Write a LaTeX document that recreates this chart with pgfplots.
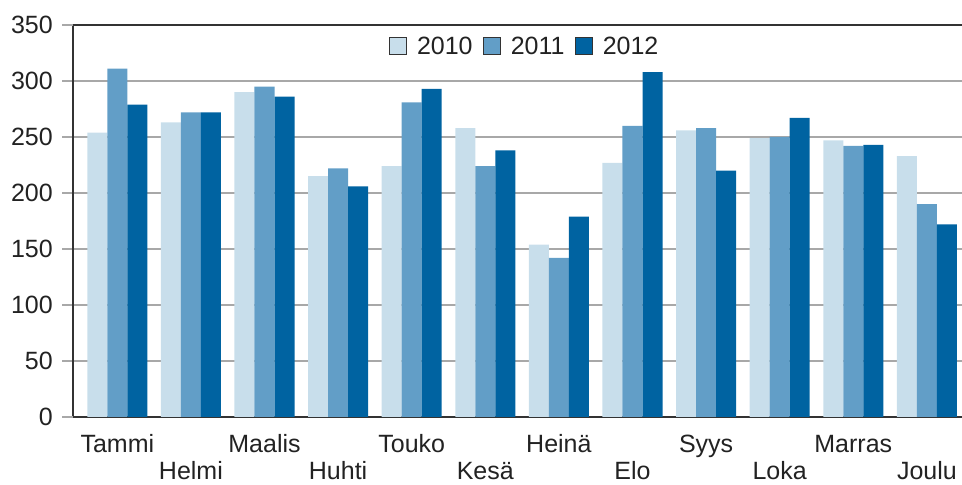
\documentclass[border=0pt]{standalone}
\usepackage{pgfplots}
\pgfplotsset{compat=1.18}
\usepackage{fontspec}
\setmainfont{Liberation Sans}
\definecolor{cA}{HTML}{C8DEEB}
\definecolor{cB}{HTML}{629EC7}
\definecolor{cC}{HTML}{0063A1}
\definecolor{txt}{HTML}{222222}
\definecolor{gridc}{HTML}{A8A8A8}
\definecolor{axc}{HTML}{333333}
\begin{document}
\begin{tikzpicture}
\path[use as bounding box] (0,0) rectangle (962bp,485bp);
\begin{axis}[
  at={(73bp,68bp)}, anchor=south west,
  width=889bp, height=392bp, scale only axis,
  xmin=-0.602, xmax=11.477, ymin=0, ymax=350,
  ybar, bar width=0.272,
  font=\fontsize{25bp}{30bp}\selectfont\color{txt},
  /pgf/number format/assume math mode=true,
  axis x line=bottom, axis y line=left,
  axis line style={-, axc, line width=1.6bp},
  ytick={50,100,...,300},
  extra y ticks={0,350},
  extra y tick style={grid style={axc, line width=1.6bp}, tick style={axc, line width=1.6bp}},
  ymajorgrids, grid style={gridc, line width=1.4bp},
  ytick style={gridc, line width=1.4bp},
  tick align=outside, major tick length=11bp,
  yticklabel style={inner sep=0pt, xshift=-9bp},
  xtick={0,2,4,6,8,10},
  xticklabels={Tammi,Maalis,Touko,Heinä,Syys,Marras},
  extra x ticks={1,3,5,7,9,11},
  extra x tick labels={Helmi,Huhti,Kesä,Elo,Loka,Joulu},
  extra x tick style={xticklabel style={yshift=-27bp}},
  xticklabel style={anchor=base, yshift=-24bp, inner sep=0pt, text depth=0pt},
  x tick style={draw=none},
  legend columns=3,
  legend style={draw=none, fill=none, at={(0.508,0.946)}, anchor=center,
    /tikz/every odd column/.append style={column sep=8bp},
    /tikz/every even column/.append style={column sep=8bp},
    nodes={inner sep=2bp}},
  legend image code/.code={\draw[#1,draw=black!80,line width=1.2bp] (0bp,-8.5bp) rectangle (17bp,8.5bp);},
]
\addplot[fill=cA, draw=none, bar shift=-0.272] coordinates {(0,254) (1,263) (2,290) (3,215) (4,224) (5,258) (6,154) (7,227) (8,256) (9,249) (10,247) (11,233)};
\addplot[fill=cB, draw=none, bar shift=0] coordinates {(0,311) (1,272) (2,295) (3,222) (4,281) (5,224) (6,142) (7,260) (8,258) (9,250) (10,242) (11,190)};
\addplot[fill=cC, draw=none, bar shift=0.272] coordinates {(0,279) (1,272) (2,286) (3,206) (4,293) (5,238) (6,179) (7,308) (8,220) (9,267) (10,243) (11,172)};
\legend{2010,2011,2012}
\end{axis}
\end{tikzpicture}
\end{document}
